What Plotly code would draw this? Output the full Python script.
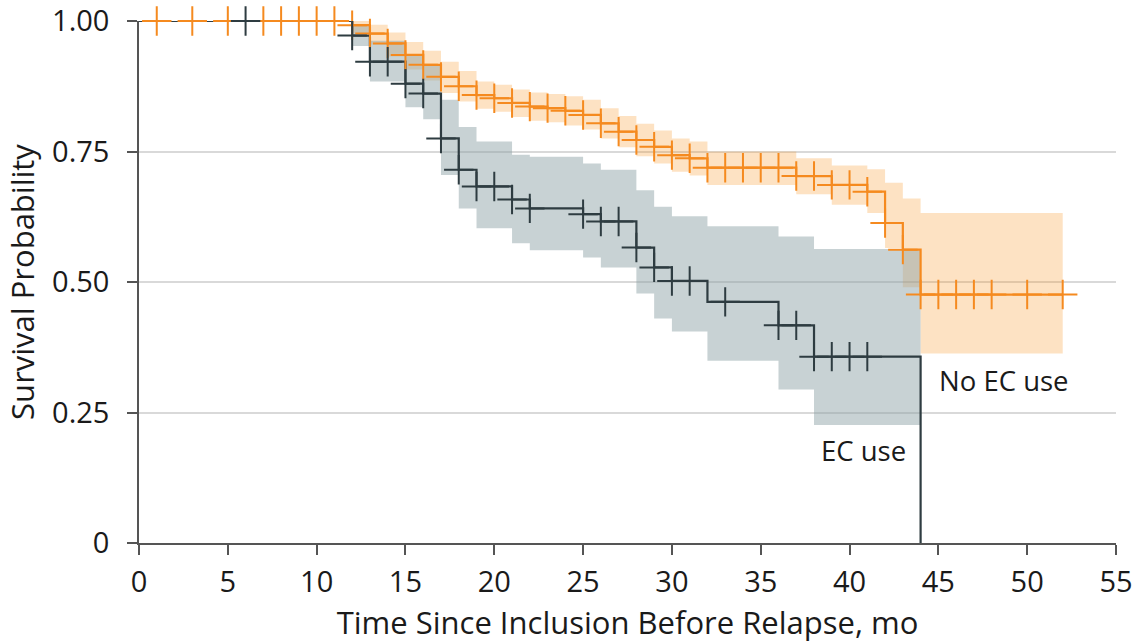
import plotly.graph_objects as go

# ---------------- data ----------------
# No EC use (orange) Kaplan-Meier steps
no_ec_time = [0, 12, 13, 14, 15, 16, 17, 18, 19, 20, 21, 22, 23, 24, 25, 26, 27, 28,
              29, 30, 31, 32, 37, 39, 41, 42, 43, 44, 52]
no_ec_surv = [1.0, 0.992, 0.976, 0.957, 0.935, 0.916, 0.893, 0.875, 0.858, 0.852, 0.843,
              0.836, 0.833, 0.828, 0.820, 0.804, 0.788, 0.772, 0.759, 0.743, 0.737, 0.719,
              0.703, 0.686, 0.673, 0.613, 0.562, 0.476, 0.476]
no_ec_lower = [1.0, 0.976, 0.955, 0.932, 0.907, 0.886, 0.862, 0.846, 0.832, 0.826, 0.816,
               0.809, 0.806, 0.800, 0.792, 0.775, 0.758, 0.741, 0.727, 0.711, 0.704, 0.686,
               0.668, 0.648, 0.632, 0.565, 0.490, 0.363, 0.363]
no_ec_upper = [1.0, 1.0, 0.993, 0.978, 0.960, 0.943, 0.922, 0.904, 0.884, 0.878, 0.869,
               0.863, 0.860, 0.856, 0.849, 0.833, 0.818, 0.803, 0.790, 0.775, 0.769, 0.750,
               0.737, 0.723, 0.716, 0.690, 0.660, 0.632, 0.632]
no_ec_censor = [1, 3, 5, 7, 8, 9, 10, 11, 12, 13, 14, 15, 16, 17, 18, 19, 20, 21, 22, 23,
                24, 25, 26, 27, 28, 29, 30, 31, 32, 33, 34, 35, 36, 37, 38, 39, 40, 41, 42,
                43, 44, 45, 46, 47, 48, 50, 52]

# EC use (dark) Kaplan-Meier steps
ec_time = [0, 12, 13, 15, 16, 17, 18, 19, 21, 22, 25, 26, 28, 29, 30, 32, 36, 38, 44]
ec_surv = [1.0, 0.972, 0.922, 0.880, 0.861, 0.775, 0.715, 0.683, 0.658, 0.641, 0.630,
           0.616, 0.566, 0.528, 0.502, 0.462, 0.417, 0.357, 0.0]
ec_band_time = [12, 13, 15, 16, 17, 18, 19, 21, 22, 25, 26, 28, 29, 30, 32, 36, 38, 44]
ec_lower = [0.952, 0.884, 0.835, 0.812, 0.705, 0.641, 0.603, 0.574, 0.561, 0.547, 0.528,
            0.478, 0.430, 0.405, 0.349, 0.294, 0.226, 0.226]
ec_upper = [0.992, 0.962, 0.935, 0.915, 0.849, 0.797, 0.769, 0.744, 0.740, 0.727, 0.715,
            0.676, 0.644, 0.626, 0.607, 0.587, 0.563, 0.563]
ec_censor = [6, 12, 13, 14, 15, 16, 17, 18, 19, 20, 21, 22, 25, 26, 27, 28, 29, 30, 31,
             33, 36, 37, 38, 39, 40, 41]

x_ticks = [0, 5, 10, 15, 20, 25, 30, 35, 40, 45, 50, 55]
y_ticks = [0, 0.25, 0.5, 0.75, 1.0]
y_tick_labels = ["0", "0.25", "0.50", "0.75", "1.00"]

# ---------------- styling ----------------
ORANGE = "#F58A1F"
ORANGE_BAND = "rgba(247,150,40,0.28)"
DARK = "#2E3C41"
DARK_BAND = "rgba(140,160,166,0.48)"
FONT = "Open Sans"
TXT = "#1a1a1a"


def step_value(times, surv, t):
    v = surv[0]
    for ti, si in zip(times, surv):
        if ti <= t:
            v = si
    return v


fig = go.Figure()

# confidence bands
fig.add_trace(go.Scatter(x=no_ec_time[1:], y=no_ec_lower[1:], mode="lines",
                         line=dict(shape="hv", width=0), hoverinfo="skip",
                         showlegend=False))
fig.add_trace(go.Scatter(x=no_ec_time[1:], y=no_ec_upper[1:], mode="lines",
                         line=dict(shape="hv", width=0), fill="tonexty",
                         fillcolor=ORANGE_BAND, hoverinfo="skip", showlegend=False))
fig.add_trace(go.Scatter(x=ec_band_time, y=ec_lower, mode="lines",
                         line=dict(shape="hv", width=0), hoverinfo="skip",
                         showlegend=False))
fig.add_trace(go.Scatter(x=ec_band_time, y=ec_upper, mode="lines",
                         line=dict(shape="hv", width=0), fill="tonexty",
                         fillcolor=DARK_BAND, hoverinfo="skip", showlegend=False))

# survival curves
fig.add_trace(go.Scatter(x=no_ec_time, y=no_ec_surv, mode="lines",
                         line=dict(shape="hv", color=ORANGE, width=2.2),
                         cliponaxis=False, showlegend=False))
fig.add_trace(go.Scatter(x=ec_time, y=ec_surv, mode="lines",
                         line=dict(shape="hv", color=DARK, width=2.2),
                         cliponaxis=False, showlegend=False))

# censor marks
fig.add_trace(go.Scatter(
    x=no_ec_censor, y=[step_value(no_ec_time, no_ec_surv, t) for t in no_ec_censor],
    mode="markers", cliponaxis=False, showlegend=False,
    marker=dict(symbol="cross-thin", size=21, line=dict(color=ORANGE, width=2))))
fig.add_trace(go.Scatter(
    x=ec_censor, y=[step_value(ec_time, ec_surv, t) for t in ec_censor],
    mode="markers", cliponaxis=False, showlegend=False,
    marker=dict(symbol="cross-thin", size=21, line=dict(color=DARK, width=2))))

fig.add_annotation(x=48.68, y=0.312, text="No EC use", showarrow=False,
                   font=dict(family=FONT, size=27.5, color=TXT))
fig.add_annotation(x=40.77, y=0.178, text="EC use", showarrow=False,
                   font=dict(family=FONT, size=27.5, color=TXT))

fig.update_layout(
    width=1132, height=643,
    margin=dict(l=138.5, r=16, t=21, b=100, autoexpand=False),
    paper_bgcolor="white", plot_bgcolor="white",
    font=dict(family=FONT, size=29, color=TXT),
    xaxis=dict(range=[0, 55], tickvals=x_ticks, showgrid=False, zeroline=False,
               showline=True, linecolor="#555555", linewidth=1.5, automargin=False,
               ticks="outside", ticklen=10, tickcolor="#555555", tickwidth=1.5,
               ticklabelstandoff=2, ticklabeloverflow="allow",
               title=dict(text="Time Since Inclusion Before Relapse, mo",
                          font=dict(size=31), standoff=21)),
    yaxis=dict(range=[0, 1], tickvals=y_ticks, ticktext=y_tick_labels,
               showgrid=True, gridcolor="#d9d9d9", gridwidth=1.5, zeroline=False,
               showline=True, linecolor="#555555", linewidth=1.5, automargin=False,
               ticks="outside", ticklen=10, tickcolor="#555555", tickwidth=1.5,
               ticklabelstandoff=12, ticklabeloverflow="allow",
               title=dict(text="Survival Probability", font=dict(size=31), standoff=8)),
)

# remove the browser's default 8px body margin so the figure fills the window exactly
fig.write_html("out.html", config={"displayModeBar": False},
               post_script="document.body.style.margin='0';")
